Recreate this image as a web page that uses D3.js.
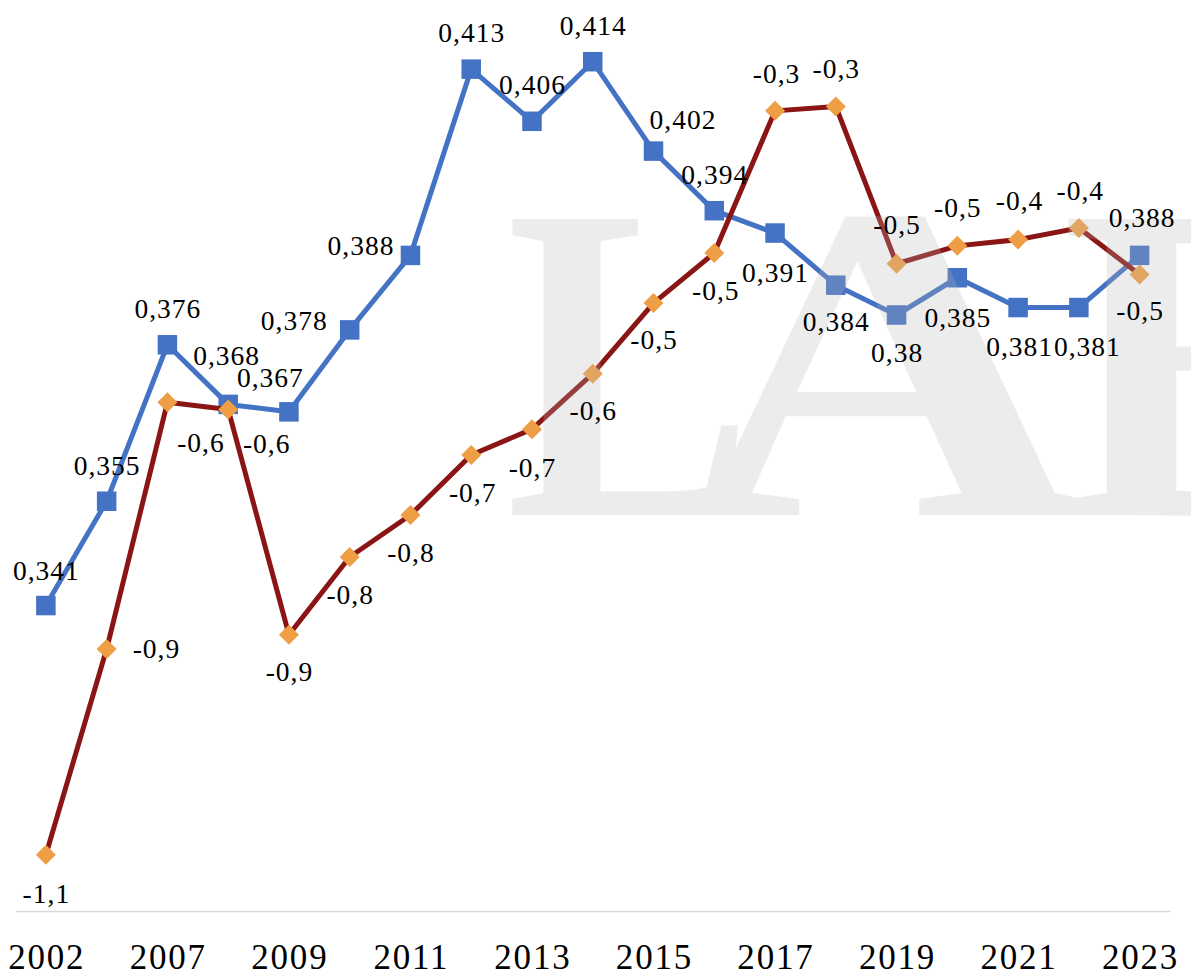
<!DOCTYPE html>
<html>
<head>
<meta charset="utf-8">
<script src="https://cdn.jsdelivr.net/npm/d3@7"></script>
<style>
  html, body { margin: 0; padding: 0; background: #ffffff; }
  svg { display: block; }
</style>
</head>
<body>
<svg id="chart" width="1191" height="980"></svg>
<script>
// ---- data ----
const categories = ["2002","2005","2007","2008","2009","2010","2011","2012","2013","2014","2015","2016","2017","2018","2019","2020","2021","2022","2023"];
const tickLabels = ["2002","2007","2009","2011","2013","2015","2017","2019","2021","2023"];
const giniValues = [0.341,0.355,0.376,0.368,0.367,0.378,0.388,0.413,0.406,0.414,0.402,0.394,0.391,0.384,0.380,0.385,0.381,0.381,0.388];
const secondValues = [-1.137,-0.907,-0.631,-0.639,-0.891,-0.804,-0.757,-0.690,-0.661,-0.599,-0.520,-0.464,-0.305,-0.300,-0.476,-0.456,-0.449,-0.436,-0.488];
const watermarkLetters = ["L","A","B"];

// label placement (anchor, dx, dy) relative to each marker
const giniLabelPlace = [
  ["middle",0,-26],["middle",0,-26],["middle",0,-27],["middle",-2,-39],["middle",-19,-25],
  ["end",-22,0],["end",-16,0],["middle",0,-27],["middle",0,-27],["middle",0,-27],
  ["middle",29,-22],["middle",0,-27],["middle",0,49],["middle",0,46],["middle",0,47],
  ["middle",0,49],["middle",1,48],["middle",8,48],["middle",2,-28]
];
const secondLabelPlace = [
  ["middle",0,48],["start",26,9],["middle",33,50],["middle",38,44],["middle",0,46],
  ["middle",0,47],["middle",0,47],["middle",1,47],["middle",0,48],["middle",0,46],
  ["middle",0,46],["middle",1,47],["middle",1,-28],["middle",0,-28],["middle",0,-30],
  ["middle",0,-29],["middle",1,-30],["middle",1,-28],["middle",0,46]
];
// watermark letter placement: [originX, horizontal scale]
const watermarkPlace = [[506, 0.82], [682, 1.24], [1061, 1.0]];

const svg = d3.select("#chart");
const plotTop = 17, plotBottom = 911, plotLeft = 15.5, plotRight = 1170;

const x = d3.scaleBand().domain(categories).range([plotLeft, plotRight]).padding(0);
const cx = d => x(d) + x.bandwidth() / 2;
const yGini = d3.scaleLinear().domain([0.30, 0.42]).range([plotBottom, plotTop]);
const ySecond = d3.scaleLinear().domain([-1.2, -0.2]).range([plotBottom, plotTop]);

const locale = d3.formatLocale({decimal: ",", thousands: ".", grouping: [3], currency: ["", ""], minus: "-"});
const fmtGini = locale.format(".3~f");
const fmtSecond = locale.format(".1f");

const BLUE = "#4472C4", RED = "#8B1515", ORANGE = "#EE9F46";
const serif = "'Liberation Serif', 'Times New Roman', serif";

// axis
const axis = d3.axisBottom(x)
  .tickValues(tickLabels)
  .tickSize(0)
  .tickSizeOuter(0)
  .tickPadding(33);
const gAxis = svg.append("g").attr("transform", `translate(0,${plotBottom})`).call(axis);
gAxis.select(".domain").attr("stroke", "#D9D9D9").attr("stroke-width", 1.5);
gAxis.selectAll("text")
  .attr("font-family", serif)
  .attr("font-size", 35)
  .attr("letter-spacing", "1.8px")
  .attr("dx", "0.9")
  .attr("fill", "#000");

const gSeries = svg.append("g");

// gini series (blue)
const lineG = d3.line().x((d, i) => cx(categories[i])).y(d => yGini(d));
gSeries.append("path").datum(giniValues)
  .attr("d", lineG).attr("fill", "none").attr("stroke", BLUE)
  .attr("stroke-width", 5).attr("stroke-linejoin", "round").attr("stroke-linecap", "round");
const sq = 19.5;
gSeries.selectAll("rect.gini").data(giniValues).join("rect")
  .attr("class", "gini")
  .attr("x", (d, i) => cx(categories[i]) - sq / 2)
  .attr("y", d => yGini(d) - sq / 2)
  .attr("width", sq).attr("height", sq)
  .attr("fill", BLUE);

// second series (red line, orange diamonds)
const lineS = d3.line().x((d, i) => cx(categories[i])).y(d => ySecond(d));
gSeries.append("path").datum(secondValues)
  .attr("d", lineS).attr("fill", "none").attr("stroke", RED)
  .attr("stroke-width", 5).attr("stroke-linejoin", "round").attr("stroke-linecap", "round");
const dh = 10;
gSeries.selectAll("path.diamond").data(secondValues).join("path")
  .attr("class", "diamond")
  .attr("d", (d, i) => {
    const px = cx(categories[i]), py = ySecond(d);
    return `M${px},${py - dh}L${px + dh},${py}L${px},${py + dh}L${px - dh},${py}Z`;
  })
  .attr("fill", ORANGE);

// watermark (semi-transparent, over the series, under the labels)
const gWm = svg.append("g")
  .attr("opacity", 0.25)
  .attr("fill", "#b8b8b8")
  .attr("font-family", serif)
  .attr("font-weight", "bold")
  .attr("font-size", 452);
gWm.selectAll("text").data(watermarkLetters).join("text")
  .attr("transform", (d, i) => `translate(${watermarkPlace[i][0]},515) scale(${watermarkPlace[i][1]},1)`)
  .attr("x", 0).attr("y", 0)
  .text(d => d);

// labels
const gLabels = svg.append("g")
  .attr("font-family", serif)
  .attr("font-size", 27.5)
  .attr("letter-spacing", "1px")
  .attr("fill", "#000");

gLabels.selectAll("text.gl").data(giniValues).join("text")
  .attr("class", "gl")
  .attr("x", (d, i) => cx(categories[i]) + giniLabelPlace[i][1] + (giniLabelPlace[i][0] === "middle" ? 0.5 : 0))
  .attr("y", (d, i) => yGini(d) + giniLabelPlace[i][2])
  .attr("text-anchor", (d, i) => giniLabelPlace[i][0])
  .text(d => fmtGini(d));

gLabels.selectAll("text.sl").data(secondValues).join("text")
  .attr("class", "sl")
  .attr("x", (d, i) => cx(categories[i]) + secondLabelPlace[i][1] + (secondLabelPlace[i][0] === "middle" ? 0.5 : 0))
  .attr("y", (d, i) => ySecond(d) + secondLabelPlace[i][2])
  .attr("text-anchor", (d, i) => secondLabelPlace[i][0])
  .text(d => fmtSecond(d));
</script>
</body>
</html>
